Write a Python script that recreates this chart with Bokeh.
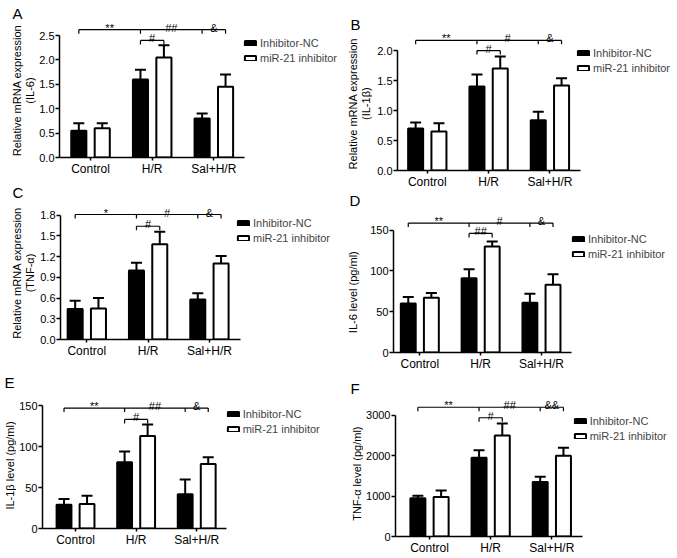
import numpy as np
from bokeh.plotting import figure
from bokeh.models import (ColumnDataSource, Range1d, FixedTicker, Legend,
                          LegendItem, Whisker, TeeHead)
from bokeh.layouts import row, column
from bokeh.embed import file_html
from bokeh.resources import INLINE
from bokeh.core.properties import value

# ---------------- data ----------------
CATEGORIES = ["Control", "H/R", "Sal+H/R"]
SERIES = ["Inhibitor-NC", "miR-21 inhibitor"]

# A: IL-6 mRNA
A_NC = [0.55, 1.60, 0.80]
A_NC_ERR = [0.15, 0.20, 0.10]
A_INH = [0.60, 2.05, 1.45]
A_INH_ERR = [0.10, 0.25, 0.25]
A_TICKS = [0.0, 0.5, 1.0, 1.5, 2.0, 2.5]
A_TICK_LABELS = ["0.0", "0.5", "1.0", "1.5", "2.0", "2.5"]
A_SIG = ["**", "##", "&", "#"]
A_BRACKETS = [2.62, 2.40]

# B: IL-1beta mRNA
B_NC = [0.70, 1.40, 0.84]
B_NC_ERR = [0.10, 0.20, 0.14]
B_INH = [0.65, 1.70, 1.42]
B_INH_ERR = [0.14, 0.20, 0.12]
B_TICKS = [0.0, 0.5, 1.0, 1.5, 2.0]
B_TICK_LABELS = ["0.0", "0.5", "1.0", "1.5", "2.0"]
B_SIG = ["**", "#", "&", "#"]
B_BRACKETS = [2.17, 2.00]

# C: TNF-alpha mRNA
C_NC = [0.44, 1.00, 0.58]
C_NC_ERR = [0.12, 0.11, 0.09]
C_INH = [0.45, 1.38, 1.10]
C_INH_ERR = [0.15, 0.18, 0.11]
C_TICKS = [0.0, 0.3, 0.6, 0.9, 1.2, 1.5, 1.8]
C_TICK_LABELS = ["0.0", "0.3", "0.6", "0.9", "1.2", "1.5", "1.8"]
C_SIG = ["*", "#", "&", "#"]
C_BRACKETS = [1.81, 1.64]

# D: IL-6 level
D_NC = [60, 91, 61]
D_NC_ERR = [8, 11, 11]
D_INH = [67, 130, 83]
D_INH_ERR = [6, 6, 13]
D_TICKS = [0, 50, 100, 150]
D_TICK_LABELS = ["0", "50", "100", "150"]
D_SIG = ["**", "#", "&", "##"]
D_BRACKETS = [158.6, 145.9]

# E: IL-1beta level
E_NC = [29, 81, 42]
E_NC_ERR = [7, 13, 18]
E_INH = [30, 113, 79]
E_INH_ERR = [10, 14, 8]
E_TICKS = [0, 50, 100, 150]
E_TICK_LABELS = ["0", "50", "100", "150"]
E_SIG = ["**", "##", "&", "#"]
E_BRACKETS = [147.2, 133.3]

# F: TNF-alpha level
F_NC = [950, 1950, 1350]
F_NC_ERR = [60, 190, 130]
F_INH = [980, 2500, 2000]
F_INH_ERR = [160, 300, 200]
F_TICKS = [0, 1000, 2000, 3000]
F_TICK_LABELS = ["0", "1000", "2000", "3000"]
F_SIG = ["**", "##", "&&", "#"]
F_BRACKETS = [3203, 2943]

FONT = "Liberation Sans"
OFF = 0.19      # dodge of each bar from group centre
BW = 0.245      # bar width (data units)

# ---------------- layout (reference-pixel geometry) ----------------
PANELS = {
    "A": dict(nc=A_NC, nce=A_NC_ERR, inh=A_INH, inhe=A_INH_ERR, ticks=A_TICKS, tl=A_TICK_LABELS,
              sig=A_SIG, br=A_BRACKETS, bord=21,
              ox=0, oy=0, W=338, H=181, ax=57, cc=88.25, sp=62.1, y0=157, ytop=35,
              letter=(12, 7), ylab=[(16, "Relative mRNA expression"), (29, "(IL-6)")],
              cy=90, leg=(240, 43.3)),
    "C": dict(nc=C_NC, nce=C_NC_ERR, inh=C_INH, inhe=C_INH_ERR, ticks=C_TICKS, tl=C_TICK_LABELS,
              sig=C_SIG, br=C_BRACKETS, bord=21,
              ox=0, oy=181, W=338, H=187, ax=58, cc=84.5, sp=61.75, y0=339.3, ytop=215,
              letter=(12, 186), ylab=[(16, "Relative mRNA expression"), (29.5, "(TNF-\u03b1)")],
              cy=272.5, leg=(233, 223.3)),
    "E": dict(nc=E_NC, nce=E_NC_ERR, inh=E_INH, inhe=E_INH_ERR, ticks=E_TICKS, tl=E_TICK_LABELS,
              sig=E_SIG, br=E_BRACKETS, bord=24,
              ox=0, oy=368, W=338, H=188, ax=40, cc=73.25, sp=61, y0=527.7, ytop=405,
              letter=(4, 376), ylab=[(9, "IL-1\u03b2 level (pg/ml)")],
              cy=465, leg=(222.7, 413.3)),
    "B": dict(nc=B_NC, nce=B_NC_ERR, inh=B_INH, inhe=B_INH_ERR, ticks=B_TICKS, tl=B_TICK_LABELS,
              sig=B_SIG, br=B_BRACKETS, bord=21,
              ox=338, oy=0, W=339, H=191, ax=395, cc=425, sp=61.75, y0=173, ytop=51,
              letter=(350, 19), ylab=[(352, "Relative mRNA expression"), (365.5, "(IL-1\u03b2)")],
              cy=105, leg=(573, 56)),
    "D": dict(nc=D_NC, nce=D_NC_ERR, inh=D_INH, inhe=D_INH_ERR, ticks=D_TICKS, tl=D_TICK_LABELS,
              sig=D_SIG, br=D_BRACKETS, bord=24,
              ox=338, oy=191, W=339, H=182, ax=391, cc=417.5, sp=61.25, y0=351.7, ytop=229.3,
              letter=(349, 194), ylab=[(352, "IL-6 level (pg/ml)")],
              cy=291.7, leg=(568, 238.3)),
    "F": dict(nc=F_NC, nce=F_NC_ERR, inh=F_INH, inhe=F_INH_ERR, ticks=F_TICKS, tl=F_TICK_LABELS,
              sig=F_SIG, br=F_BRACKETS, bord=30,
              ox=338, oy=373, W=339, H=184, ax=393, cc=427.25, sp=61.6, y0=539.3, ytop=416,
              letter=(350, 383), ylab=[(356, "TNF-\u03b1 level (pg/ml)")],
              cy=475, leg=(569.7, 424)),
}


def make_label_fig(name, g, lw, bb):
    """Narrow figure left of the axis holding the panel letter and the y-axis title.
    Its frame spans the same vertical extent as the plot's frame (top of figure .. x axis)."""
    H = g["H"]
    fh = H - bb                      # frame height in px; data y = px above frame bottom
    q = figure(width=lw, height=H, x_range=Range1d(0, lw), y_range=Range1d(0, fh),
               title=None, output_backend="svg", toolbar_location=None, min_border=0,
               min_border_left=0, min_border_right=0, min_border_top=0, min_border_bottom=bb,
               x_axis_location=None, y_axis_location=None, outline_line_color=None,
               background_fill_color="white", border_fill_color="white")
    q.xgrid.visible = False
    q.ygrid.visible = False
    lx, ly = g["letter"]
    q.text(x=[lx - g["ox"]], y=[fh - (ly - g["oy"] - 3)], text=[name], text_font=value(FONT),
           text_font_size="15px", text_align="left", text_baseline="top", text_color="black")
    xs = [cx - g["ox"] for cx, _ in g["ylab"]]
    ts = [t for _, t in g["ylab"]]
    q.text(x=xs, y=[fh - (g["cy"] - g["oy"])] * len(xs), text=ts, angle=np.pi / 2,
           text_font=value(FONT), text_font_size="11px", text_align="center",
           text_baseline="middle", text_color="black")
    return q


def make_panel(name, g):
    fl = int(round(g["ax"] - g["ox"]))
    lw = fl - g["bord"]
    Wm = g["W"] - lw
    bb = int(round(g["H"] - (g["y0"] - g["oy"])))   # bottom border (x axis area)
    fh = g["H"] - bb
    fr = Wm - 1
    ymax = g["ticks"][-1]
    ppu = (g["y0"] - g["ytop"]) / ymax
    x_start = (g["ax"] - g["cc"]) / g["sp"]
    x_end = x_start + (fr - g["bord"]) / g["sp"]
    y_end = fh / ppu

    p = figure(width=Wm, height=g["H"], x_range=Range1d(x_start, x_end),
               y_range=Range1d(0, y_end), title=None, output_backend="svg",
               toolbar_location=None,
               min_border_left=g["bord"], min_border_right=Wm - fr,
               min_border_top=0, min_border_bottom=bb,
               outline_line_color=None, background_fill_color="white",
               border_fill_color="white")
    p.xgrid.visible = False
    p.ygrid.visible = False

    for ax in (p.xaxis[0], p.yaxis[0]):
        ax.axis_line_width = 1.5
        ax.axis_line_color = "black"
        ax.major_tick_line_width = 1.5
        ax.major_tick_line_color = "black"
        ax.major_tick_in = 0
        ax.minor_tick_line_color = None
        ax.major_label_text_font = FONT
        ax.major_label_text_color = "black"
    p.xaxis.ticker = FixedTicker(ticks=list(range(len(CATEGORIES))))
    p.xaxis.major_label_overrides = {i: c for i, c in enumerate(CATEGORIES)}
    p.xaxis.major_label_text_font_size = "12px"
    p.xaxis.major_tick_out = 3
    p.xaxis.major_label_standoff = 1
    p.xaxis.bounds = (x_start, 2.5)

    p.yaxis.ticker = FixedTicker(ticks=g["ticks"])
    p.yaxis.major_label_overrides = {t: l for t, l in zip(g["ticks"], g["tl"])}
    p.yaxis.major_label_text_font_size = "11px"
    p.yaxis.major_tick_out = 4
    p.yaxis.major_label_standoff = 1
    p.yaxis.bounds = (0, ymax)

    idx = np.arange(len(CATEGORIES))
    nc = np.array(g["nc"], dtype=float)
    inh = np.array(g["inh"], dtype=float)
    s_nc = ColumnDataSource(dict(x=idx - OFF, top=nc, hi=nc + np.array(g["nce"])))
    s_inh = ColumnDataSource(dict(x=idx + OFF, top=inh, hi=inh + np.array(g["inhe"])))

    for s in (s_nc, s_inh):
        w = Whisker(source=s, base="x", lower="top", upper="hi", dimension="height",
                    line_width=2, line_color="black",
                    upper_head=TeeHead(size=11, line_width=2, line_color="black"),
                    lower_head=None)
        p.add_layout(w)

    r_nc = p.vbar(x="x", top="top", bottom=0, width=BW, source=s_nc,
                  fill_color="black", line_color="black", line_width=2)
    r_inh = p.vbar(x="x", top="top", bottom=0, width=BW, source=s_inh,
                   fill_color="white", line_color="black", line_width=2)

    # significance brackets
    nodes = [0 - OFF, 1 - OFF, 2 - OFF, 2 + OFF]
    top_b, in_b = g["br"]
    tick = 4 / ppu
    hx0 = nodes[:3] + [1 - OFF]
    hx1 = nodes[1:] + [1 + OFF]
    hy = [top_b] * 3 + [in_b]
    p.segment(x0=hx0, x1=hx1, y0=hy, y1=hy, line_color="black", line_width=1.2)
    vx = nodes + [1 - OFF, 1 + OFF]
    vy = [top_b] * 4 + [in_b] * 2
    p.segment(x0=vx, x1=vx, y0=vy, y1=[v - tick for v in vy], line_color="black", line_width=1.2)
    mids = [(a + b) / 2 for a, b in zip(hx0, hx1)]
    p.text(x=mids, y=hy, text=g["sig"], text_align="center", text_baseline="alphabetic",
           y_offset=-2, text_font_size="11px", text_font=value(FONT), text_color="black")

    lx, ly = g["leg"]
    leg = Legend(items=[LegendItem(label=SERIES[0], renderers=[r_nc]),
                        LegendItem(label=SERIES[1], renderers=[r_inh])],
                 location=(lx + 1 - g["ax"], g["y0"] - (ly + 21.5)),
                 orientation="vertical", padding=0, margin=0, spacing=2,
                 glyph_width=14, glyph_height=6, label_height=13, label_standoff=3,
                 label_text_font_size="11px", label_text_font=FONT,
                 border_line_color=None, background_fill_alpha=0)
    p.add_layout(leg)

    return row(make_label_fig(name, g, lw, bb), p)


panels = {k: make_panel(k, v) for k, v in PANELS.items()}
layout = row(column(panels["A"], panels["C"], panels["E"]),
             column(panels["B"], panels["D"], panels["F"]))

with open("out.html", "w") as f:
    f.write(file_html(layout, INLINE))
